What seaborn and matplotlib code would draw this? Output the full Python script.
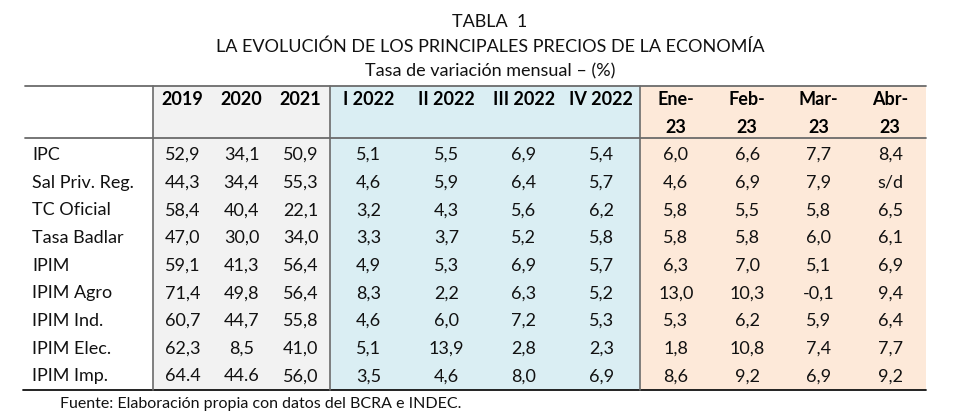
import numpy as np
import matplotlib
matplotlib.use("Agg")
import matplotlib.pyplot as plt
from matplotlib.colors import ListedColormap
import seaborn as sns

sns.set_theme(style="white")
plt.rcParams['font.family'] = ['Lato', 'DejaVu Sans']

# ---- data ----
title_lines = ["TABLA  1",
               "LA EVOLUCIÓN DE LOS PRINCIPALES PRECIOS DE LA ECONOMÍA",
               "Tasa de variación mensual – (%)"]
footer = "Fuente: Elaboración propia con datos del BCRA e INDEC."

row_labels = ["IPC", "Sal Priv. Reg.", "TC Oficial", "Tasa Badlar", "IPIM",
              "IPIM Agro", "IPIM Ind.", "IPIM Elec.", "IPIM Imp."]

annual_head1 = ["2019", "2020", "2021"]
annual_head2 = ["", "", ""]
quarter_head1 = ["I 2022", "II 2022", "III 2022", "IV 2022"]
quarter_head2 = ["", "", "", ""]
month_head1 = ["Ene-", "Feb-", "Mar-", "Abr-"]
month_head2 = ["23", "23", "23", "23"]

annual_vals = [
    ["52,9", "34,1", "50,9"],
    ["44,3", "34,4", "55,3"],
    ["58,4", "40,4", "22,1"],
    ["47,0", "30,0", "34,0"],
    ["59,1", "41,3", "56,4"],
    ["71,4", "49,8", "56,4"],
    ["60,7", "44,7", "55,8"],
    ["62,3", "8,5", "41,0"],
    ["64.4", "44.6", "56,0"],
]
quarter_vals = [
    ["5,1", "5,5", "6,9", "5,4"],
    ["4,6", "5,9", "6,4", "5,7"],
    ["3,2", "4,3", "5,6", "6,2"],
    ["3,3", "3,7", "5,2", "5,8"],
    ["4,9", "5,3", "6,9", "5,7"],
    ["8,3", "2,2", "6,3", "5,2"],
    ["4,6", "6,0", "7,2", "5,3"],
    ["5,1", "13,9", "2,8", "2,3"],
    ["3,5", "4,6", "8,0", "6,9"],
]
month_vals = [
    ["6,0", "6,6", "7,7", "8,4"],
    ["4,6", "6,9", "7,9", "s/d"],
    ["5,8", "5,5", "5,8", "6,5"],
    ["5,8", "5,8", "6,0", "6,1"],
    ["6,3", "7,0", "5,1", "6,9"],
    ["13,0", "10,3", "-0,1", "9,4"],
    ["5,3", "6,2", "5,9", "6,4"],
    ["1,8", "10,8", "7,4", "7,7"],
    ["8,6", "9,2", "6,9", "9,2"],
]

# ---- layout (pixels) ----
W, H = 960, 415
fig = plt.figure(figsize=(W / 100, H / 100), dpi=100)
base = fig.add_axes([0, 0, 1, 1])
base.set_xlim(0, W)
base.set_ylim(H, 0)
base.set_axis_off()

top_y, head_y, bot_y = 86, 138, 390
left_x, right_x = 25, 926
groups = [
    (annual_head1, annual_head2, annual_vals, "#F2F2F2", 153, 330),
    (quarter_head1, quarter_head2, quarter_vals, "#DAEEF3", 330, 640),
    (month_head1, month_head2, month_vals, "#FDE9D9", 640, 926),
]
FS = 13
TXT = "#111111"

n_rows = 2 + len(row_labels)
for h1, h2, vals, col, x0, x1 in groups:
    labels = np.array([h1, h2] + vals, dtype=object)
    grid = np.zeros(labels.shape)
    ax = fig.add_axes([x0 / W, 1 - bot_y / H, (x1 - x0) / W, (bot_y - top_y) / H])
    sns.heatmap(grid, ax=ax, cmap=ListedColormap([col]), cbar=False,
                annot=labels, fmt="", xticklabels=False, yticklabels=False,
                annot_kws={"fontsize": FS, "color": TXT})
    for t in ax.texts:
        if t.get_position()[1] < 2:
            t.set_fontweight("bold")
            t.set_color("#000000")

base.set_zorder(5)
base.patch.set_visible(False)

# row labels
row_h = (bot_y - top_y) / n_rows
for i, lab in enumerate(row_labels):
    y = top_y + row_h * (i + 2.5)
    base.text(32, y, lab, ha="left", va="center", fontsize=FS, color=TXT)

# rules
base.plot([left_x, right_x], [top_y, top_y], color="#6b6b6b", lw=1.3)
base.plot([left_x, right_x], [head_y, head_y], color="#6b6b6b", lw=1.3)
base.plot([left_x - 2, right_x], [bot_y, bot_y], color="#111111", lw=1.3)
for x in (153, 330, 640):
    base.plot([x, x], [top_y, bot_y], color="#6b6b6b", lw=1.2)

# titles
for y, line in zip((22, 47, 71), title_lines):
    base.text(490, y, line, ha="center", va="center", fontsize=FS, color=TXT)
base.text(60, 404, footer, ha="left", va="center", fontsize=11.5, color=TXT)

fig.savefig("out.png", dpi=100)
